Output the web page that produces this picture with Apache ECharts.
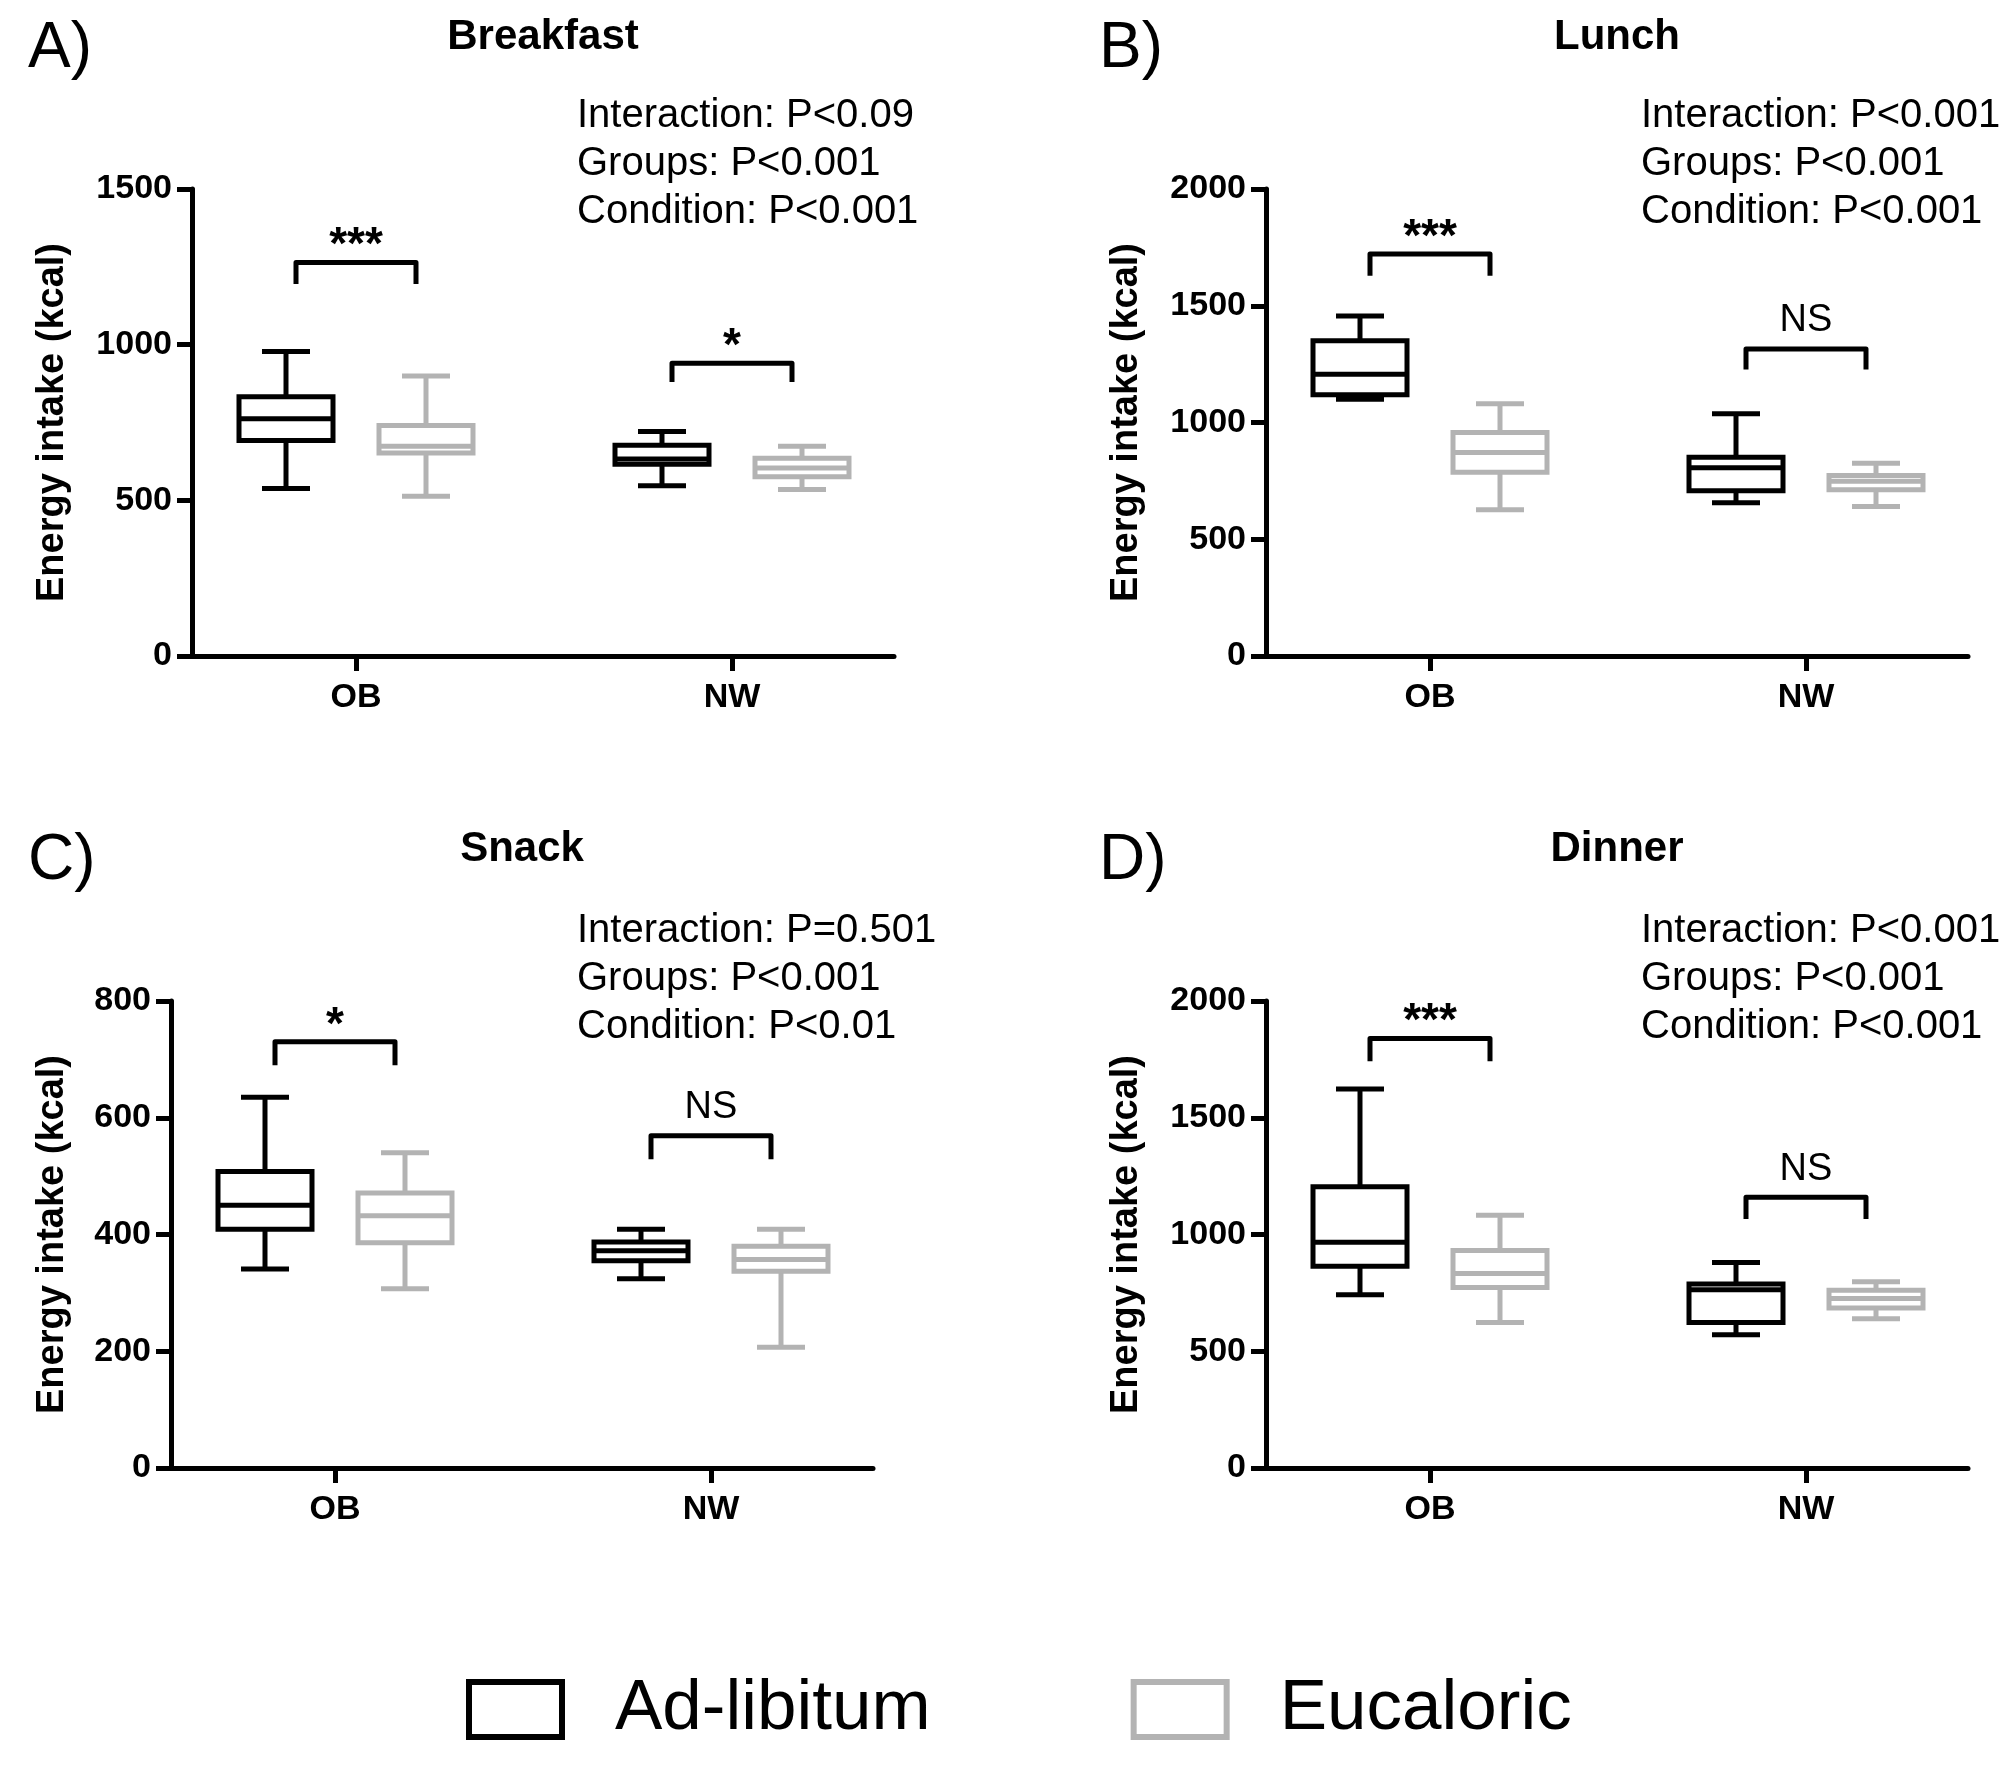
<!DOCTYPE html>
<html><head><meta charset="utf-8">
<script src="https://cdn.jsdelivr.net/npm/echarts@6/dist/echarts.min.js"></script>
<style>html,body{margin:0;padding:0;background:#fff}#c{width:2015px;height:1770px}</style>
</head><body><div id="c"></div>
<script>
// ---------- DATA ----------
const groups = ['OB', 'NW'];
const conditions = ['Ad-libitum', 'Eucaloric'];
const panelTitles = ['Breakfast', 'Lunch', 'Snack', 'Dinner'];
const panelLetters = ['A)', 'B)', 'C)', 'D)'];
const yAxisTitle = 'Energy intake (kcal)';

// tick labels per panel
const breakfastTicks = [0, 500, 1000, 1500];
const lunchTicks = [0, 500, 1000, 1500, 2000];
const snackTicks = [0, 200, 400, 600, 800];
const dinnerTicks = [0, 500, 1000, 1500, 2000];

// [min, Q1, median, Q3, max] for OB, NW
const breakfastAdLib = [[538, 692, 762, 833, 978], [547, 616, 633, 677, 721]];
const breakfastEucal = [[513, 652, 674, 740, 899], [535, 576, 604, 635, 674]];
const lunchAdLib = [[1100, 1119, 1207, 1350, 1456], [656, 708, 806, 851, 1037]];
const lunchEucal = [[626, 787, 871, 957, 1080], [640, 712, 748, 773, 826]];
const snackAdLib = [[341, 409, 450, 508, 635], [324, 355, 372, 387, 409]];
const snackEucal = [[307, 386, 432, 471, 540], [207, 337, 357, 380, 409]];
const dinnerAdLib = [[742, 864, 967, 1204, 1623], [571, 623, 763, 788, 880]];
const dinnerEucal = [[623, 773, 833, 932, 1082], [639, 685, 726, 761, 798]];

// significance brackets: [group index, bracket top, leg end, label]
const breakfastBrackets = [[0, 1264, 1195, '***'], [1, 940, 880, '*']];
const lunchBrackets = [[0, 1722, 1628, '***'], [1, 1315, 1227, 'NS']];
const snackBrackets = [[0, 730, 690, '*'], [1, 569, 529, 'NS']];
const dinnerBrackets = [[0, 1839, 1742, '***'], [1, 1159, 1066, 'NS']];

const breakfastStats = ['Interaction: P<0.09', 'Groups: P<0.001', 'Condition: P<0.001'];
const lunchStats = ['Interaction: P<0.001', 'Groups: P<0.001', 'Condition: P<0.001'];
const snackStats = ['Interaction: P=0.501', 'Groups: P<0.001', 'Condition: P<0.01'];
const dinnerStats = ['Interaction: P<0.001', 'Groups: P<0.001', 'Condition: P<0.001'];

// ---------- LAYOUT / STYLE ----------
const FONT = '"Liberation Sans", Arial, Helvetica, sans-serif';
const BLACK = '#000000', GREY = '#b3b3b3';
const GW = 702, GH = 467;
const layouts = [
  { left: 192, top: 189, letterX: 28, letterY: 17, statsX: 577, statsY: 92, nameGap: 120, titleY: 16 },
  { left: 1266, top: 189, letterX: 1099, letterY: 17, statsX: 1641, statsY: 92, nameGap: 120, titleY: 16 },
  { left: 171, top: 1001, letterX: 28, letterY: 829, statsX: 577, statsY: 907, nameGap: 99, titleY: 828 },
  { left: 1266, top: 1001, letterX: 1099, letterY: 829, statsX: 1641, statsY: 907, nameGap: 120, titleY: 828 }
];

const panels = [
  { ticks: breakfastTicks, adlib: breakfastAdLib, eucal: breakfastEucal, brackets: breakfastBrackets, stats: breakfastStats },
  { ticks: lunchTicks, adlib: lunchAdLib, eucal: lunchEucal, brackets: lunchBrackets, stats: lunchStats },
  { ticks: snackTicks, adlib: snackAdLib, eucal: snackEucal, brackets: snackBrackets, stats: snackStats },
  { ticks: dinnerTicks, adlib: dinnerAdLib, eucal: dinnerEucal, brackets: dinnerBrackets, stats: dinnerStats }
];

const LW = 5;

function boxRenderer(offset, color) {
  return function (params, api) {
    const x = api.value(0);
    const pMin = api.coord([x, api.value(1)]);
    const pQ1 = api.coord([x, api.value(2)]);
    const pMed = api.coord([x, api.value(3)]);
    const pQ3 = api.coord([x, api.value(4)]);
    const pMax = api.coord([x, api.value(5)]);
    const cx = pMin[0] + offset;
    const hw = 47, cw = 24;
    const st = { stroke: color, lineWidth: LW, fill: null };
    return {
      type: 'group',
      children: [
        { type: 'line', shape: { x1: cx, y1: pQ3[1], x2: cx, y2: pMax[1] }, style: st },
        { type: 'line', shape: { x1: cx, y1: pQ1[1], x2: cx, y2: pMin[1] }, style: st },
        { type: 'line', shape: { x1: cx - cw, y1: pMax[1], x2: cx + cw, y2: pMax[1] }, style: st },
        { type: 'line', shape: { x1: cx - cw, y1: pMin[1], x2: cx + cw, y2: pMin[1] }, style: st },
        { type: 'rect', shape: { x: cx - hw, y: pQ3[1], width: 2 * hw, height: pQ1[1] - pQ3[1] },
          style: { stroke: color, lineWidth: LW, fill: '#ffffff' } },
        { type: 'line', shape: { x1: cx - hw, y1: pMed[1], x2: cx + hw, y2: pMed[1] }, style: st }
      ]
    };
  };
}

function bracketRenderer(list) {
  return function (params, api) {
    const x = api.value(0);
    const pt = api.coord([x, api.value(1)]);
    const pl = api.coord([x, api.value(2)]);
    const cx = pt[0], hw = 60;
    const label = list[params.dataIndex][3];
    const isStar = label.indexOf('*') >= 0;
    return {
      type: 'group',
      children: [
        { type: 'polyline', shape: { points: [[cx - hw, pl[1]], [cx - hw, pt[1]], [cx + hw, pt[1]], [cx + hw, pl[1]]] },
          style: { stroke: BLACK, lineWidth: LW, fill: null, lineJoin: 'round' } },
        { type: 'text', x: cx, y: pt[1] - (isStar ? 16 : 28),
          style: { text: label, fill: BLACK, font: (isStar ? 'bold 46px ' : 'normal 38px ') + FONT,
                   textAlign: 'center', textVerticalAlign: 'middle' } }
      ]
    };
  };
}

const grid = [], xAxis = [], yAxis = [], series = [], title = [];
panels.forEach(function (p, i) {
  const L = layouts[i];
  const tmin = p.ticks[0], tmax = p.ticks[p.ticks.length - 1], tint = p.ticks[1] - p.ticks[0];
  const gV = 2 * i, gL = 2 * i + 1;
  grid.push({ left: L.left, top: L.top, width: GW, height: GH });
  grid.push({ left: L.left - 24, top: L.top, width: GW + 50, height: GH });
  // visible axis lines + y labels
  xAxis.push({ gridIndex: gV, type: 'value', min: 0, max: 1,
    axisLine: { show: true, lineStyle: { color: BLACK, width: 5 } },
    axisTick: { show: false }, axisLabel: { show: false }, splitLine: { show: false } });
  yAxis.push({ gridIndex: gV, type: 'value', min: tmin, max: tmax, interval: tint,
    axisLine: { show: true, lineStyle: { color: BLACK, width: 5 } },
    axisTick: { show: true, length: 15, lineStyle: { color: BLACK, width: 5 } },
    axisLabel: { color: BLACK, fontSize: 34, fontWeight: 'bold', fontFamily: FONT, margin: 20,
      formatter: function (v) { return String(v); } },
    splitLine: { show: false },
    name: yAxisTitle, nameLocation: 'middle', nameGap: L.nameGap,
    nameTextStyle: { color: BLACK, fontSize: 38, fontWeight: 'bold', fontFamily: FONT } });
  // category axis for groups
  xAxis.push({ gridIndex: gL, type: 'category', data: groups, boundaryGap: true,
    axisLine: { show: false },
    axisTick: { show: true, alignWithLabel: true, length: 15, lineStyle: { color: BLACK, width: 5 } },
    axisLabel: { color: BLACK, fontSize: 34, fontWeight: 'bold', fontFamily: FONT, margin: 25 },
    splitLine: { show: false } });
  yAxis.push({ gridIndex: gL, type: 'value', min: tmin, max: tmax, interval: tint, show: false });

  series.push({ type: 'custom', name: conditions[0], xAxisIndex: gL, yAxisIndex: gL,
    itemStyle: { color: BLACK }, renderItem: boxRenderer(-70, BLACK),
    encode: { x: 0, y: [1, 2, 3, 4, 5] },
    data: p.adlib.map(function (d, k) { return [k].concat(d); }) });
  series.push({ type: 'custom', name: conditions[1], xAxisIndex: gL, yAxisIndex: gL,
    itemStyle: { color: GREY }, renderItem: boxRenderer(70, GREY),
    encode: { x: 0, y: [1, 2, 3, 4, 5] },
    data: p.eucal.map(function (d, k) { return [k].concat(d); }) });
  series.push({ type: 'custom', name: 'brackets', xAxisIndex: gL, yAxisIndex: gL,
    renderItem: bracketRenderer(p.brackets), encode: { x: 0, y: [1, 2] },
    data: p.brackets.map(function (b) { return [b[0], b[1], b[2]]; }) });

  title.push({ text: panelTitles[i], left: L.left + GW / 2, top: L.titleY, textAlign: 'center', padding: 0,
    textStyle: { color: BLACK, fontSize: 42, fontWeight: 'bold', fontFamily: FONT, lineHeight: 42 } });
  title.push({ text: panelLetters[i], left: L.letterX, top: L.letterY, padding: 0,
    textStyle: { color: BLACK, fontSize: 64, fontWeight: 'normal', fontFamily: FONT, lineHeight: 64 } });
  title.push({ text: p.stats.join('\n'), left: L.statsX, top: L.statsY, padding: 0,
    textStyle: { color: BLACK, fontSize: 40, fontWeight: 'normal', fontFamily: FONT, lineHeight: 48 } });
});

const chart = echarts.init(document.getElementById('c'), null, { renderer: 'canvas' });
chart.setOption({
  backgroundColor: '#ffffff',
  animation: false,
  title: title,
  grid: grid,
  xAxis: xAxis,
  yAxis: yAxis,
  legend: {
    left: 466, top: 1674, orient: 'horizontal', selectedMode: false, padding: 0,
    itemWidth: 93, itemHeight: 55, itemGap: 200,
    textStyle: { color: BLACK, fontSize: 71, fontFamily: FONT, padding: [0, 0, 0, 48] },
    data: [
      { name: conditions[0], icon: 'rect', itemStyle: { color: '#ffffff', borderColor: BLACK, borderWidth: 6 } },
      { name: conditions[1], icon: 'rect', itemStyle: { color: '#ffffff', borderColor: GREY, borderWidth: 6 } }
    ]
  },
  series: series
});
</script>
</body></html>
